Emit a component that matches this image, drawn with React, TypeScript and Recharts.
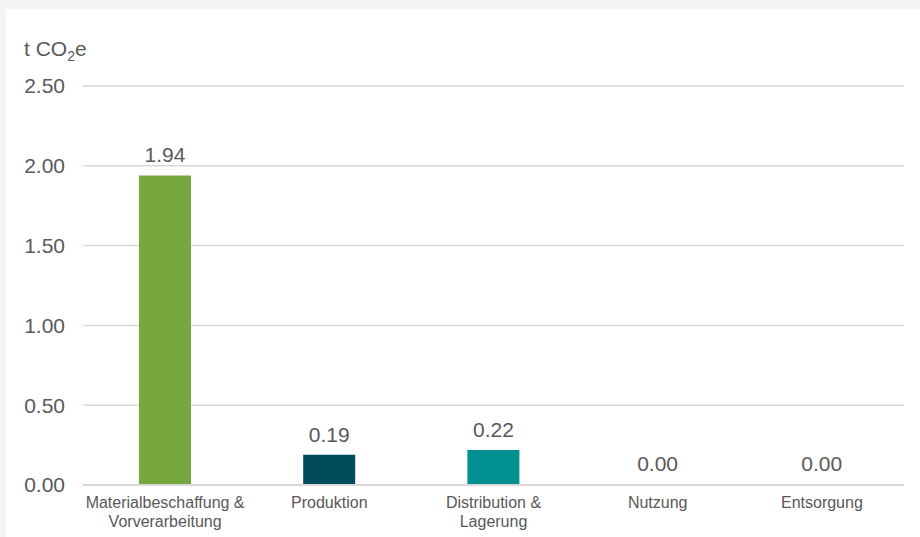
import { BarChart, Bar, XAxis, YAxis, CartesianGrid, Cell, LabelList } from "recharts";

// Lebenszyklusphasen (x-Achse) und Emissionen in t CO2e
const phases = [
  "Materialbeschaffung &\nVorverarbeitung",
  "Produktion",
  "Distribution &\nLagerung",
  "Nutzung",
  "Entsorgung",
];
const emissions = [1.94, 0.19, 0.22, 0.004, 0.004];
const barColors = ["#76a83f", "#004c5c", "#009092", "#d9d9d9", "#e2cfa6"];
const yTicks = [0, 0.5, 1, 1.5, 2, 2.5];

const data = phases.map((phase, i) => ({ phase, value: emissions[i] }));

const FONT = '"Liberation Sans", Arial, sans-serif';
const TEXT = "#595959";

function PhaseTick(props: any) {
  const { x, y, payload } = props;
  const lines = String(payload.value).split("\n");
  return (
    <text x={x} y={y} textAnchor="middle" fill={TEXT} fontSize={16} fontFamily={FONT}>
      {lines.map((l, i) => (
        <tspan key={i} x={x} dy={i === 0 ? 15 : 19}>
          {l}
        </tspan>
      ))}
    </text>
  );
}

export default function App() {
  return (
    <div
      style={{
        position: "absolute",
        left: 0,
        top: 0,
        width: 920,
        height: 537,
        background: "#f4f4f4",
        overflow: "hidden",
      }}
    >
      <div
        style={{
          position: "absolute",
          left: 6,
          top: 9,
          width: 914,
          height: 528,
          background: "#ffffff",
        }}
      >
        <div
          style={{
            position: "absolute",
            left: 18,
            top: 28,
            fontFamily: FONT,
            fontSize: 21,
            color: TEXT,
            lineHeight: "24px",
            whiteSpace: "nowrap",
          }}
        >
          t CO<span style={{ fontSize: 14, position: "relative", top: 5 }}>2</span>e
        </div>
        <BarChart
          width={914}
          height={528}
          data={data}
          margin={{ top: 77, right: 16, left: 0, bottom: 0 }}
          style={{ fontFamily: FONT }}
        >
          <CartesianGrid vertical={false} stroke="#d9d9d9" strokeWidth={1.5} />
          <XAxis
            dataKey="phase"
            height={52}
            tickLine={false}
            axisLine={{ stroke: "#d9d9d9", strokeWidth: 2 }}
            tick={<PhaseTick />}
            interval={0}
          />
          <YAxis
            width={77}
            domain={[0, 2.5]}
            ticks={yTicks}
            tickFormatter={(v: number) => v.toFixed(2)}
            axisLine={false}
            tickLine={false}
            tickSize={0}
            tickMargin={18}
            tick={{ fill: TEXT, fontSize: 21, fontFamily: FONT }}
          />
          <Bar dataKey="value" barSize={52} isAnimationActive={false}>
            {data.map((_, i) => (
              <Cell key={i} fill={barColors[i]} />
            ))}
            <LabelList
              dataKey="value"
              position="top"
              offset={13}
              formatter={(v: any) => Number(v).toFixed(2)}
              fill={TEXT}
              fontSize={21}
              fontFamily={FONT}
            />
          </Bar>
        </BarChart>
      </div>
    </div>
  );
}
